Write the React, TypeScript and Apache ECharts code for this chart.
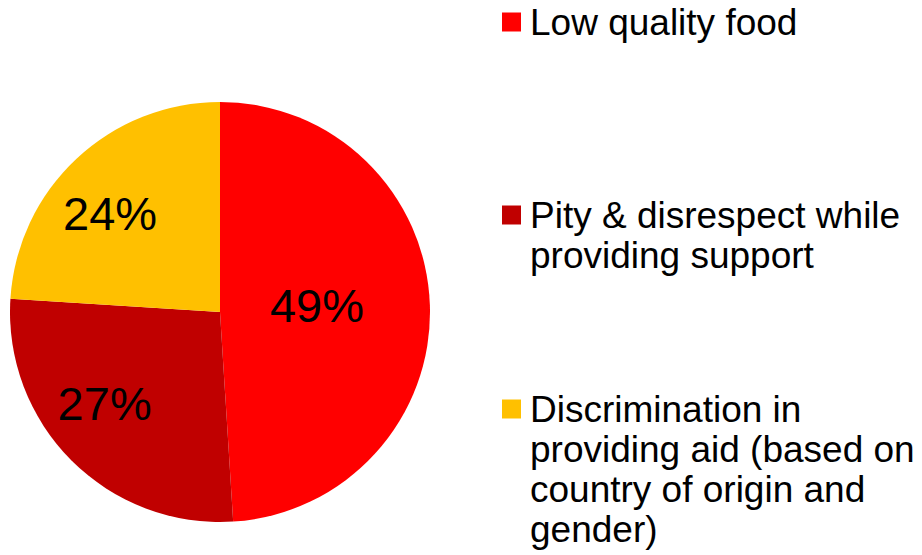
import React, { useEffect, useRef } from "react";
import * as echarts from "echarts";

const categories = [
  "Low quality food",
  "Pity & disrespect while\nproviding support",
  "Discrimination in\nproviding aid (based on\ncountry of origin and\ngender)",
];
const values = [49, 27, 24];
const colors = ["#FF0000", "#C00000", "#FFC000"];

// layout (not data)
const FONT = "'Liberation Sans', Arial, sans-serif";
const PIE_CENTER = [220, 312];
const PIE_RADIUS = 210;
const LABEL_SHIFT = [
  [-11, -3],
  [-39, 15],
  [-36, -20],
];
const LEGEND_X = 502;
const LEGEND_TEXT_X = 530;
const LEGEND_CENTERS = [22, 215, 409];
const LEGEND_FONT = 37;
const LEGEND_LINE = 40;
const MARKER = 19;

export default function App() {
  const ref = useRef<HTMLDivElement>(null);
  useEffect(() => {
    document.body.style.margin = "0";
    if (!ref.current) return;
    const chart = echarts.init(ref.current, undefined, { renderer: "svg" });
    const graphic: any[] = [];
    categories.forEach((name, i) => {
      graphic.push({
        type: "rect",
        left: LEGEND_X,
        top: LEGEND_CENTERS[i] - MARKER / 2,
        shape: { width: MARKER, height: MARKER },
        style: { fill: colors[i] },
      });
      graphic.push({
        type: "text",
        x: LEGEND_TEXT_X,
        y: LEGEND_CENTERS[i] - LEGEND_LINE / 2,
        style: {
          text: name,
          fill: "#000",
          fontSize: LEGEND_FONT,
          fontFamily: FONT,
          lineHeight: LEGEND_LINE,
          verticalAlign: "top",
          align: "left",
        },
      });
    });
    chart.setOption({
      animation: false,
      backgroundColor: "#fff",
      graphic,
      series: [
        {
          type: "pie",
          center: PIE_CENTER,
          radius: [0, PIE_RADIUS],
          startAngle: 90,
          clockwise: true,
          avoidLabelOverlap: false,
          silent: true,
          itemStyle: { borderWidth: 0 },
          label: {
            show: true,
            position: "inside",
            formatter: "{c}%",
            color: "#000",
            fontSize: 47,
            fontFamily: FONT,
          },
          labelLine: { show: false },
          labelLayout: (params: any) => ({
            dx: LABEL_SHIFT[params.dataIndex][0],
            dy: LABEL_SHIFT[params.dataIndex][1],
          }),
          data: categories.map((name, i) => ({
            name,
            value: values[i],
            itemStyle: { color: colors[i] },
          })),
        },
      ],
    });
    return () => chart.dispose();
  }, []);
  return <div ref={ref} style={{ width: 922, height: 555 }} />;
}
